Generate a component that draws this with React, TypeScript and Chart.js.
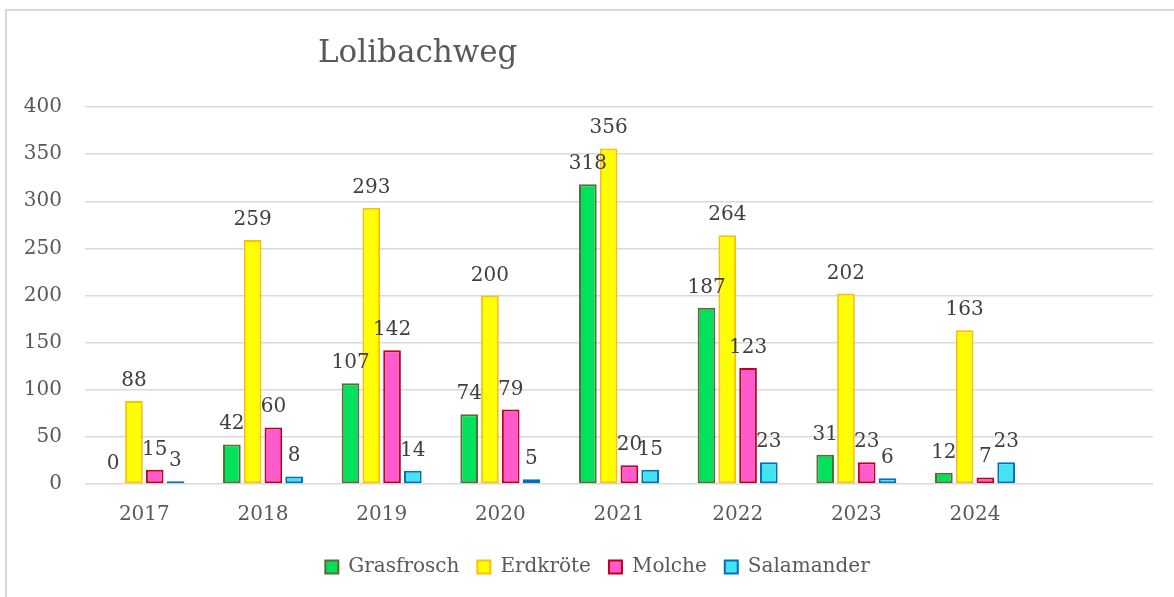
import React, { useEffect, useRef } from "react";
import { Chart, registerables } from "chart.js";

Chart.register(...registerables);

const TITLE = "Lolibachweg";
const years = ["2017", "2018", "2019", "2020", "2021", "2022", "2023", "2024", ""];
const grasfrosch = [0, 42, 107, 74, 318, 187, 31, 12, null];
const erdkroete = [88, 259, 293, 200, 356, 264, 202, 163, null];
const molche = [15, 60, 142, 79, 20, 123, 23, 7, null];
const salamander = [3, 8, 14, 5, 15, 23, 6, 23, null];
const yTicks = [0, 50, 100, 150, 200, 250, 300, 350, 400];

const FONT = "'DejaVu Serif', serif";

const titlePlugin = {
  id: "customTitle",
  afterDraw(chart: any) {
    const ctx = chart.ctx;
    ctx.save();
    ctx.font = `31px ${FONT}`;
    ctx.fillStyle = "#595959";
    ctx.textAlign = "left";
    ctx.textBaseline = "alphabetic";
    ctx.fillText(TITLE, 318, 62);
    ctx.restore();
  },
};

const legendShift = {
  id: "legendShift",
  afterLayout(chart: any) {
    const lg = chart.legend;
    if (lg) {
      lg.left += 21;
      lg.right += 21;
    }
  },
};

const valueLabels = {
  id: "valueLabels",
  afterDatasetsDraw(chart: any) {
    const ctx = chart.ctx;
    ctx.save();
    ctx.font = `20px ${FONT}`;
    ctx.fillStyle = "#404040";
    ctx.textAlign = "center";
    ctx.textBaseline = "alphabetic";
    chart.data.datasets.forEach((ds: any, i: number) => {
      const meta = chart.getDatasetMeta(i);
      meta.data.forEach((el: any, j: number) => {
        const v = ds.data[j];
        if (v === null || v === undefined) return;
        ctx.fillText(String(v), el.x, el.y - 15);
      });
    });
    ctx.restore();
  },
};

export default function App() {
  const ref = useRef<HTMLCanvasElement>(null);
  useEffect(() => {
    if (!ref.current) return;
    const mk = (label: string, data: any[], bg: string, bd: string) => ({
      label,
      data,
      backgroundColor: bg,
      borderColor: bd,
      borderWidth: 2,
      borderSkipped: false,
      categoryPercentage: 0.7,
      barPercentage: 0.85,
    });
    const chart = new Chart(ref.current, {
      type: "bar",
      data: {
        labels: years,
        datasets: [
          mk("Grasfrosch", grasfrosch, "#00E25B", "#5A6B35"),
          mk("Erdkröte", erdkroete, "#FFFF00", "#FFC000"),
          mk("Molche", molche, "#FF5BCD", "#C0001E"),
          mk("Salamander", salamander, "#42E4F0", "#0070C0"),
        ],
      },
      options: {
        animation: false,
        responsive: true,
        maintainAspectRatio: false,
        layout: { padding: { left: 0, right: 21, top: 107, bottom: 10 } },
        plugins: {
          title: { display: false },
          tooltip: { enabled: false },
          legend: {
            position: "bottom",
            labels: {
              font: { family: FONT, size: 20 },
              color: "#595959",
              boxWidth: 13,
              boxHeight: 13,
              padding: 18,
            },
          },
        },
        scales: {
          x: {
            grid: { display: false },
            border: { display: false },
            ticks: { font: { family: FONT, size: 20 }, color: "#595959", padding: 11 },
            afterFit: (s: any) => {
              s.height = 55;
            },
          },
          y: {
            min: 0,
            max: 400,
            afterBuildTicks: (s: any) => {
              s.ticks = yTicks.map((v) => ({ value: v }));
            },
            grid: { color: "#D9D9D9", lineWidth: 1.5, drawTicks: false },
            border: { display: false },
            ticks: { font: { family: FONT, size: 20 }, color: "#595959", padding: 23 },
            afterFit: (s: any) => {
              s.width = 85;
            },
          },
        },
      },
      plugins: [titlePlugin, valueLabels, legendShift],
    });
    return () => chart.destroy();
  }, []);
  return (
    <div style={{ position: "fixed", left: 0, top: 0, width: 1174, height: 597, overflow: "hidden", background: "#fff" }}>
      <div style={{ position: "absolute", left: 5, top: 9, width: 1300, height: 800, border: "2px solid #D9D9D9" }} />
      <div style={{ position: "absolute", left: 0, top: 0, width: 1174, height: 597 }}>
        <canvas ref={ref} />
      </div>
    </div>
  );
}
